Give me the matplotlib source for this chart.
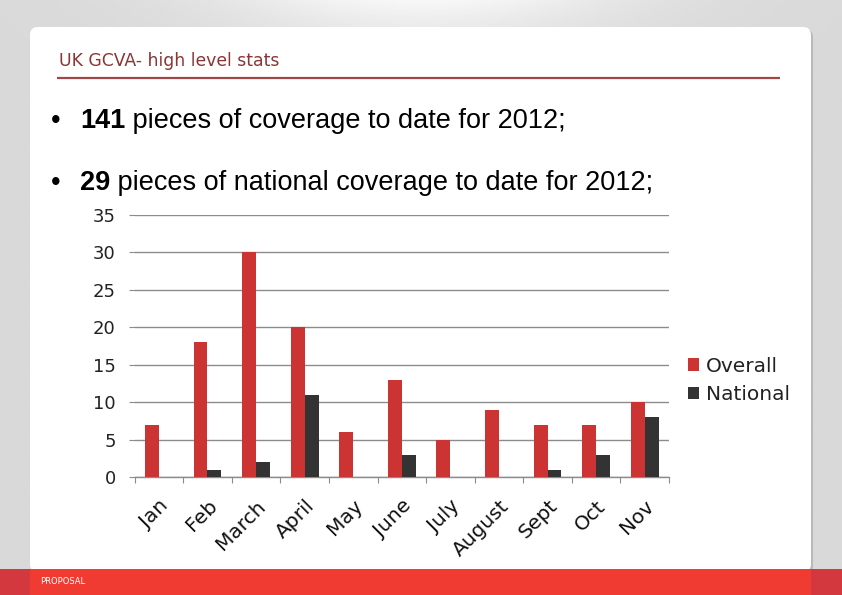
import numpy as np
import matplotlib
matplotlib.use("Agg")
import matplotlib.pyplot as plt
from matplotlib.patches import FancyBboxPatch, Rectangle

# chart data
months = ["Jan", "Feb", "March", "April", "May", "June", "July",
          "August", "Sept", "Oct", "Nov"]
overall = [7, 18, 30, 20, 6, 13, 5, 9, 7, 7, 10]
national = [0, 1, 2, 11, 0, 3, 0, 0, 1, 3, 8]
y_ticks = [0, 5, 10, 15, 20, 25, 30, 35]

title = "UK GCVA- high level stats"
bullets = [("141", " pieces of coverage to date for 2012;"),
           ("29", " pieces of national coverage to date for 2012;")]

RED = "#cc3333"
DARK = "#333333"
GRID = "#8c8c8c"

W, H = 842, 595
fig = plt.figure(figsize=(W / 100, H / 100), dpi=100)

# slide background in pixel coordinates
bg = fig.add_axes([0, 0, 1, 1])
bg.set_xlim(0, W)
bg.set_ylim(H, 0)
bg.axis("off")

xx, yy = np.meshgrid(np.linspace(-1, 1, 300), np.linspace(0, 1, 200))
shade = 0.85 + 0.12 * np.exp(-(xx ** 2) / 0.25) * np.exp(-yy / 0.08)
bg.imshow(shade, cmap="gray", vmin=0, vmax=1, extent=[0, W, H, 0],
          aspect="auto", zorder=0)

# card shadow + card
bg.add_patch(FancyBboxPatch((31, 29), 782, 545, boxstyle="round,pad=0,rounding_size=8",
                            fc="#9a9a9a", ec="none", alpha=0.5, zorder=1))
bg.add_patch(FancyBboxPatch((30, 27), 781, 545, boxstyle="round,pad=0,rounding_size=8",
                            fc="white", ec="none", zorder=2))

# footer band
bg.add_patch(Rectangle((0, 569), W, 26, fc="#d2383e", ec="none", zorder=3))
bg.add_patch(Rectangle((30, 569), 781, 26, fc="#f03b33", ec="none", zorder=4))
bg.text(40, 582, "PROPOSAL", color="white", fontsize=6, va="center",
        ha="left", family="DejaVu Sans", zorder=5)

# title and rule
bg.text(59, 61, title, color="#8b3535", fontsize=12.4, va="center", ha="left",
        family="DejaVu Sans", zorder=5)
bg.plot([57, 780], [77.5, 77.5], color="#a04848", lw=1.6, zorder=5,
        solid_capstyle="butt")

# bullet lines
for i, (num, rest) in enumerate(bullets):
    yb = 121 + i * 62
    bg.text(51, yb, "\u2022", fontsize=19.5, va="center", ha="left",
            family="Liberation Sans", zorder=5)
    t = bg.text(80, yb, num, fontsize=19.5, fontweight="bold", va="center",
                ha="left", family="Liberation Sans", zorder=5)
    fig.canvas.draw()
    x_end = t.get_window_extent().x1
    bg.text(x_end, yb, rest, fontsize=19.5, va="center", ha="left",
            family="Liberation Sans", zorder=5)

# chart axes
left, right, top, bottom = 134.6, 669, 215, 477
ax = fig.add_axes([left / W, 1 - bottom / H, (right - left) / W, (bottom - top) / H])
ax.patch.set_alpha(0)
ax.set_zorder(6)

x = np.arange(len(months))
bw = 0.286
ax.bar(x - bw / 2, overall, width=bw, color=RED, label="Overall", zorder=3)
ax.bar(x + bw / 2, national, width=bw, color=DARK, label="National", zorder=3)

ax.set_xlim(-0.5, len(months) - 0.5)
ax.set_ylim(0, 35)
ax.set_yticks(y_ticks)
ax.yaxis.grid(True, color=GRID, lw=1)
ax.set_axisbelow(True)

for s in ["top", "right", "left"]:
    ax.spines[s].set_visible(False)
ax.spines["bottom"].set_color(GRID)
ax.spines["bottom"].set_linewidth(1)

font = "DejaVu Sans"
ax.tick_params(axis="y", length=4.5, color=GRID, labelsize=13, pad=9,
               labelcolor="#222222")
for lab in ax.get_yticklabels():
    lab.set_family(font)

ax.set_xticks(np.arange(len(months) + 1) - 0.5)
ax.set_xticklabels([])
ax.tick_params(axis="x", which="major", length=4, color=GRID, direction="out")
ax.set_xticks(x, minor=True)
ax.set_xticklabels(months, minor=True, rotation=45, ha="right",
                   rotation_mode="anchor", fontsize=14.5, family=font,
                   color="#111111")
ax.tick_params(axis="x", which="minor", length=0, pad=14)

leg = ax.legend(loc="upper left", bbox_to_anchor=(1.02, 0.49), frameon=False,
                prop={"family": font, "size": 14.5}, handlelength=0.55,
                handleheight=0.55, handletextpad=0.35, labelspacing=0.45,
                borderaxespad=0)
for txt in leg.get_texts():
    txt.set_color("#222222")

fig.savefig("out.png", dpi=100)
